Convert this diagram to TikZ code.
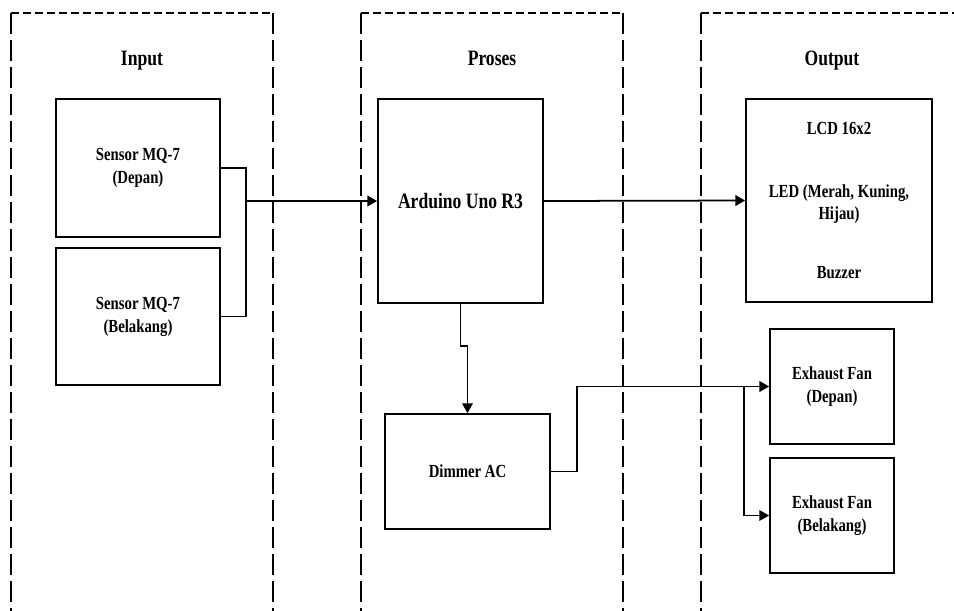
\documentclass[tikz,border=0pt]{standalone}
\usepackage{fontspec}
\setmainfont{Liberation Serif}[FakeStretch=0.8]
\usetikzlibrary{positioning,arrows.meta}

\begin{document}
\begin{tikzpicture}[x=0.02cm, y=-0.02cm, line width=1pt,
    blok/.style={draw, line width=1pt, align=center, inner sep=2pt,
      font=\bfseries\fontsize{10.5}{13}\selectfont},
    isi/.style={align=center, inner sep=1pt, font=\bfseries\fontsize{10.5}{13}\selectfont},
    judul/.style={anchor=base, font=\bfseries\fontsize{12.5}{15}\selectfont},
    panah/.style={-{Triangle[length=5.5pt,width=6pt]}}]
  \useasboundingbox (0,0) rectangle (954,610);
  \clip (0,0) rectangle (954,610);
  % kolom input / proses / output
  \foreach \xa/\xb/\nama/\teks in {11/273/in/Input, 361/623/pr/Proses, 701/963/out/Output} {
    \draw[line width=0.7pt, dash pattern=on 4.5pt off 2.3pt] (\xa,13) -- (\xb,13);
    \draw[line width=0.7pt, dash pattern=on 12pt off 3.4pt] (\xa,13) -- (\xa,620) (\xb,13) -- (\xb,620);
    \node[judul] (judul-\nama) at ({(\xa+\xb)/2},65) {\teks};
  }
  % blok
  \node[blok, minimum width=3.28cm, minimum height=2.76cm] (mq-depan) at (138,168) {Sensor MQ-7\\(Depan)};
  \node[blok, minimum width=3.28cm, minimum height=2.74cm] (mq-belakang) at (138,316.5) {Sensor MQ-7\\(Belakang)};
  \node[blok, minimum width=3.3cm, minimum height=4.08cm, font=\bfseries\fontsize{12.5}{15}\selectfont] (arduino) at (460.5,201) {Arduino Uno R3};
  \node[blok, minimum width=3.72cm, minimum height=4.06cm] (keluaran) at (839,200.5) {};
  \node[isi] (lcd) at (839,128) {LCD 16x2};
  \node[isi] (led) at (839,204) {LED (Merah, Kuning,\\Hijau)};
  \node[isi] (buzzer) at (839,273) {Buzzer};
  \node[blok, minimum width=3.3cm, minimum height=2.3cm] (dimmer) at (467.5,471.5) {Dimmer AC};
  \node[blok, minimum width=2.48cm, minimum height=2.3cm] (fan-depan) at (832,386.5) {Exhaust Fan\\(Depan)};
  \node[blok, minimum width=2.48cm, minimum height=2.3cm] (fan-belakang) at (832,515.5) {Exhaust Fan\\(Belakang)};
  % sambungan
  \coordinate (sambung) at (246,201);
  \coordinate (tekuk) at (467.5,346);
  \coordinate (naik) at (577,386.5);
  \coordinate (cabang) at (744,386.5);
  \draw (mq-depan.east) -| (sambung) |- (mq-belakang.east);
  \draw[panah] (sambung) -- (arduino.west);
  \draw[panah] (arduino.east) -- (keluaran.west);
  \draw[panah, line width=0.6pt] (arduino.south) |- (tekuk) -- (dimmer.north);
  \draw[panah] (dimmer.east) -| (naik) -- (fan-depan.west);
  \draw[panah, line width=0.6pt] (cabang) |- (fan-belakang.west);
\end{tikzpicture}
\end{document}
